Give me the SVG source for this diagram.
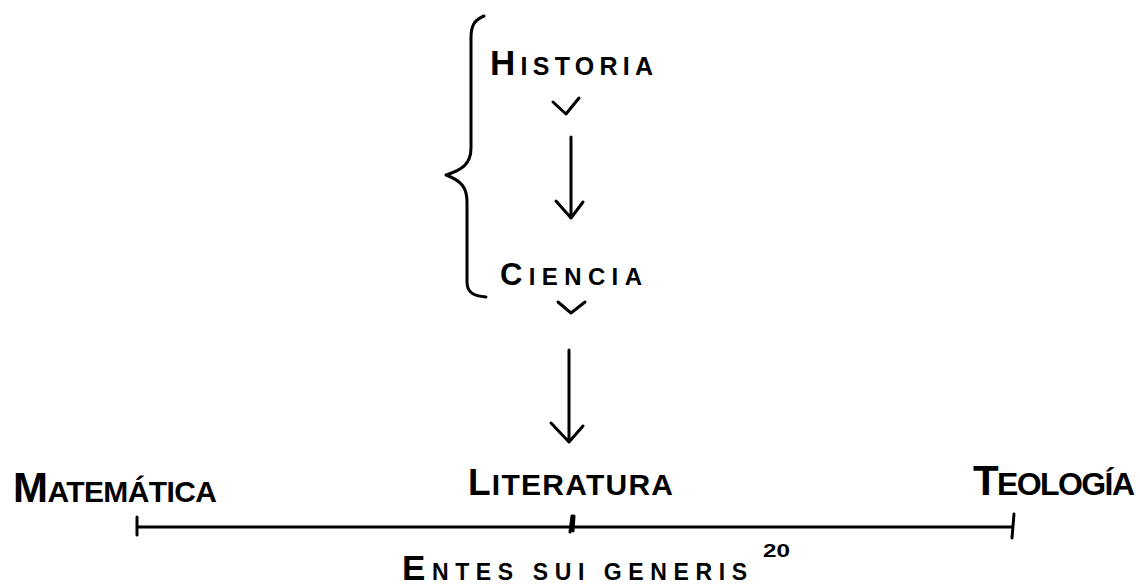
<svg xmlns="http://www.w3.org/2000/svg" width="1140" height="587" viewBox="0 0 1140 587">
<style>
.t{font-family:"Liberation Sans",Arial,sans-serif;font-weight:bold;fill:#000}
.ln{fill:none;stroke:#000;stroke-width:3;stroke-linecap:round;stroke-linejoin:round}
</style>
<rect width="1140" height="587" fill="#fff"/>
<g id="brace"><path class="ln" d="M484,16 C474,20 471,26 471,38 L471,148 C471,164 462,170 446,175 C462,181 467,188 467,202 L467,282 C467,292 473,296 486,297"/></g>
<g id="historia"><text class="t" x="490" y="75" textLength="163" lengthAdjust="spacing"><tspan font-size="35">H</tspan><tspan font-size="25">ISTORIA</tspan></text></g>
<g id="ciencia"><text class="t" x="500" y="285" textLength="142" lengthAdjust="spacing"><tspan font-size="31">C</tspan><tspan font-size="24">IENCIA</tspan></text></g>
<g id="matematica"><text class="t" x="13" y="502" textLength="204" lengthAdjust="spacing"><tspan font-size="42">M</tspan><tspan font-size="30">ATEMÁTICA</tspan></text></g>
<g id="literatura"><text class="t" x="468" y="495" textLength="205" lengthAdjust="spacing"><tspan font-size="37">L</tspan><tspan font-size="30">ITERATURA</tspan></text></g>
<g id="teologia"><text class="t" x="973" y="495" textLength="162" lengthAdjust="spacing"><tspan font-size="42">T</tspan><tspan font-size="32">EOLOGÍA</tspan></text></g>
<g id="entes"><text class="t" x="402" y="580" textLength="345" lengthAdjust="spacing"><tspan font-size="35">E</tspan><tspan font-size="23">NTES SUI GENERIS</tspan></text><text class="t" x="763" y="557" font-size="19" textLength="27" lengthAdjust="spacingAndGlyphs">20</text></g>
<g id="connectors">
<path class="ln" d="M553,102 L566,114 L579,98"/>
<path class="ln" d="M558,302 L571,313 L585,302"/>
<path class="ln" d="M571,137 L571,218 M556,201 L571,218 L583,202"/>
<path class="ln" d="M569,350 L569,442 M551,423 L569,442 L583,426"/>
<path class="ln" d="M137,527 L1013,527 M137,517 L137,535 M1014,514 L1012,538"/>
<path class="ln" d="M572,516 L570,532 M574,516 L573,531"/>
</g>
</svg>
